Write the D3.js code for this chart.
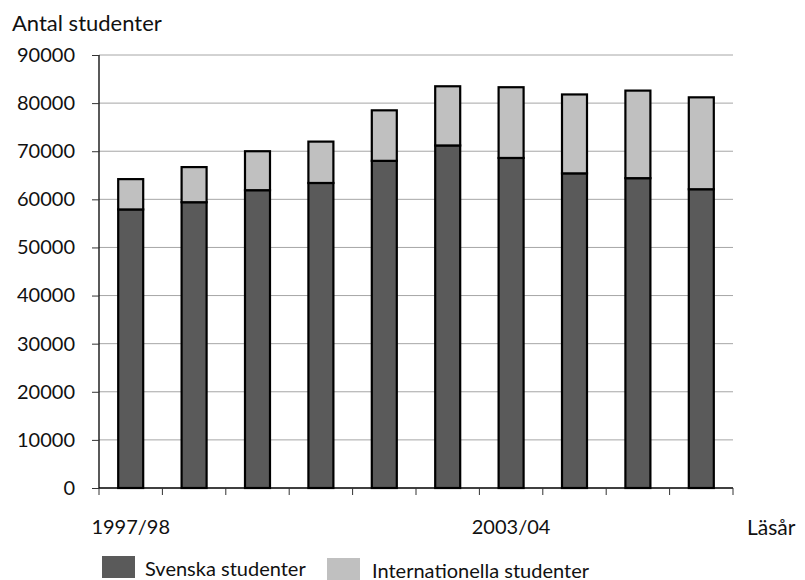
<!DOCTYPE html>
<html lang="sv">
<head>
    <meta charset="UTF-8">
    <title>Antal studenter</title>
    <script src="https://d3js.org/d3.v7.min.js"></script>
    <style>
        body {
            margin: 0;
            padding: 0;
            background: #fff;
            font-family: Lato, "Open Sans", sans-serif;
        }
        text {
            font-family: Lato, "Open Sans", sans-serif;
            fill: #111;
        }
        .grid line {
            stroke: #a6a6a6;
            stroke-width: 1;
        }
    </style>
</head>
<body>
    <svg width="805" height="580"></svg>
    <script>
        const years = ["1997/98", "1998/99", "1999/00", "2000/01", "2001/02",
            "2002/03", "2003/04", "2004/05", "2005/06", "2006/07"];
        const shownLabels = ["1997/98", "2003/04"];
        const svenska = [57900, 59400, 61900, 63400, 68000, 71200, 68600, 65400, 64400, 62100];
        const internationella = [6300, 7300, 8100, 8600, 10500, 12300, 14700, 16400, 18200, 19100];
        const yTicks = [0, 10000, 20000, 30000, 40000, 50000, 60000, 70000, 80000, 90000];
        const seriesNames = ["Svenska studenter", "Internationella studenter"];
        const seriesColors = ["#5a5a5a", "#c0c0c0"];

        const svg = d3.select("svg");
        const margin = { left: 99, right: 72, top: 55, bottom: 92 };
        const width = +svg.attr("width") - margin.left - margin.right,
            height = +svg.attr("height") - margin.top - margin.bottom;

        const g = svg.append("g")
            .attr("transform", `translate(${margin.left},${margin.top})`);

        const x = d3.scaleBand().domain(years).range([0, width]).paddingInner(0).paddingOuter(0);
        const y = d3.scaleLinear().domain([0, 90000]).range([height, 0]);

        const table = years.map((yr, i) => ({ year: yr, svenska: svenska[i], internationella: internationella[i] }));
        const stacked = d3.stack().keys(["svenska", "internationella"])(table);

        // gridlines
        g.append("g")
            .attr("class", "grid")
            .selectAll("line")
            .data(yTicks.filter(d => d > 0))
            .enter().append("line")
            .attr("x1", 0)
            .attr("x2", width)
            .attr("y1", d => y(d))
            .attr("y2", d => y(d));

        // y axis
        const yAxis = g.append("g")
            .call(d3.axisLeft(y).tickValues(yTicks).tickSize(7).tickPadding(17).tickFormat(d3.format("d")));
        yAxis.select(".domain").attr("stroke", "#000").attr("stroke-width", 1.3).attr("d", `M0,${height}V0`);
        yAxis.selectAll(".tick line").attr("stroke", "#333");
        yAxis.selectAll(".tick text").style("font-size", "20px").attr("fill", "#111");

        // bars
        const barW = 25;
        g.append("g")
            .selectAll("g")
            .data(stacked)
            .enter().append("g")
            .attr("fill", (d, i) => seriesColors[i])
            .selectAll("rect")
            .data(d => d)
            .enter().append("rect")
            .attr("x", d => x(d.data.year) + x.bandwidth() / 2 - barW / 2)
            .attr("y", d => y(d[1]))
            .attr("width", barW)
            .attr("height", d => y(d[0]) - y(d[1]))
            .attr("stroke", "#000")
            .attr("stroke-width", 2.2);

        // x axis
        const xAxis = g.append("g")
            .attr("transform", `translate(0,${height})`);
        xAxis.append("line")
            .attr("x1", 0).attr("x2", width)
            .attr("stroke", "#000").attr("stroke-width", 1.3);
        xAxis.selectAll(".xtick")
            .data(years.concat(["end"]))
            .enter().append("line")
            .attr("class", "xtick")
            .attr("x1", (d, i) => i * x.step())
            .attr("x2", (d, i) => i * x.step())
            .attr("y1", 0).attr("y2", 7)
            .attr("stroke", "#333");
        xAxis.selectAll(".xlabel")
            .data(shownLabels)
            .enter().append("text")
            .attr("class", "xlabel")
            .attr("x", d => x(d) + x.bandwidth() / 2)
            .attr("y", 46)
            .attr("text-anchor", "middle")
            .style("font-size", "20px")
            .text(d => d);

        svg.append("text")
            .attr("x", 747).attr("y", 535)
            .style("font-size", "21px")
            .text("Läsår");

        svg.append("text")
            .attr("x", 12).attr("y", 31)
            .style("font-size", "22px")
            .text("Antal studenter");

        // legend
        const legendPos = [{ sx: 102, sy: 556, tx: 145, ty: 576 }, { sx: 327, sy: 558, tx: 372, ty: 578 }];
        const legend = svg.append("g")
            .selectAll("g")
            .data(seriesNames)
            .enter().append("g");
        legend.append("rect")
            .attr("x", (d, i) => legendPos[i].sx)
            .attr("y", (d, i) => legendPos[i].sy)
            .attr("width", 33)
            .attr("height", 22)
            .attr("fill", (d, i) => seriesColors[i]);
        legend.append("text")
            .attr("x", (d, i) => legendPos[i].tx)
            .attr("y", (d, i) => legendPos[i].ty)
            .style("font-size", "20px")
            .text(d => d);
    </script>
</body>
</html>
